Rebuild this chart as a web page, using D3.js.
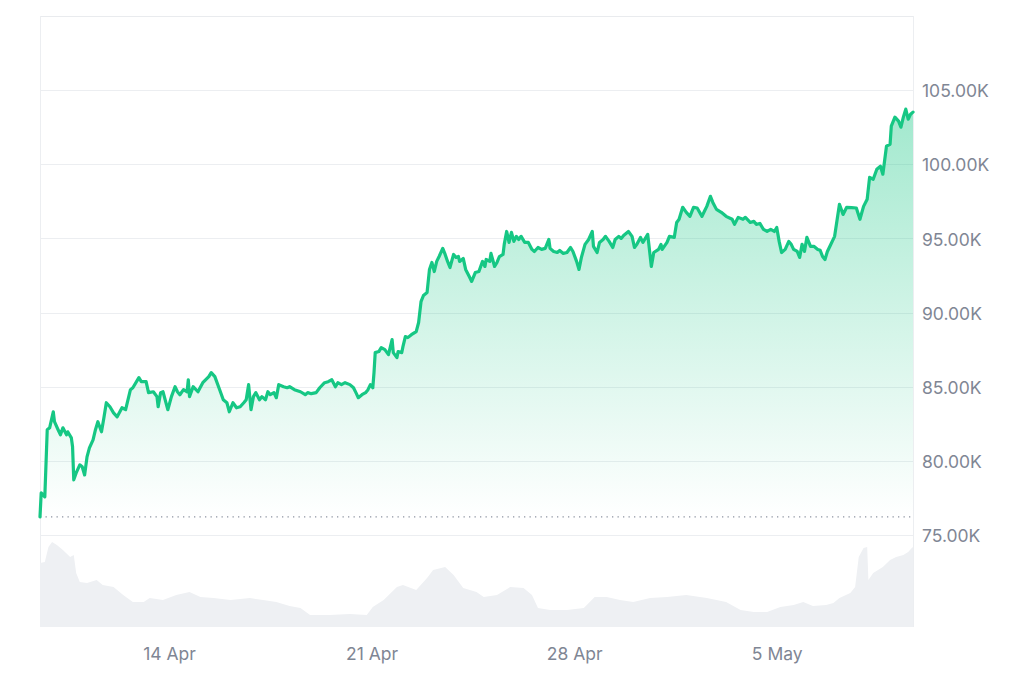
<!DOCTYPE html>
<html>
<head>
<meta charset="utf-8">
<script src="https://cdn.jsdelivr.net/npm/d3@7"></script>
<style>
  html, body { margin: 0; padding: 0; background: #ffffff; }
  svg { display: block; }
  text { font-family: Inter, "Noto Sans", sans-serif; }
</style>
</head>
<body>
<svg id="chart" width="1024" height="683"></svg>
<script>
// ---- data (hours after start time) ----
const startTime = "2025-04-09T13:00:00Z";
const endHour = 724;

const priceHours = [0,1,4,6,8,11,12,15,17,19,22,23,26,27,28,30,33,35,37,39,41,44,46,48,51,53,55,58,61,64,68,71,75,77,82,84,88,90,94,97,98,100,102,106,109,112,114,116,119,122,123,124,127,131,135,140,142,145,149,152,155,157,160,163,166,169,171,173,175,177,179,182,184,187,189,191,194,196,198,202,205,207,211,216,220,222,225,229,232,236,239,242,245,247,250,253,257,260,262,264,267,270,272,274,276,277,278,281,283,286,289,292,293,296,297,300,301,303,305,308,312,314,316,318,321,323,325,327,329,331,334,336,338,340,343,345,347,348,351,353,356,358,361,364,367,369,370,373,374,377,379,381,384,385,387,389,391,393,395,397,399,402,405,408,410,413,416,419,422,423,426,429,431,434,437,440,442,445,447,449,452,455,458,459,462,464,467,469,472,475,477,480,482,484,488,491,493,495,498,500,504,507,509,513,515,516,520,522,526,528,530,533,536,539,542,545,549,551,553,556,558,561,565,569,574,576,579,583,585,589,592,594,597,600,603,606,609,611,613,615,618,621,623,625,628,630,632,634,636,639,642,645,647,649,651,653,655,659,663,666,669,673,677,680,683,686,688,691,694,697,699,702,705,706,709,712,714,716,718,720,722,724];

const priceValues = [76220,77840,77570,82100,82230,83310,82640,82100,81760,82230,81760,81960,81550,80950,78720,79190,79730,79600,79050,80270,80880,81420,82100,82640,81960,82910,83920,83650,83240,82970,83580,83450,84800,84930,85610,85340,85340,84600,84660,84330,83650,84600,84660,83450,84330,85000,84660,84460,84800,84660,85470,84330,85000,84660,85270,85680,85950,85680,84800,84120,83920,83310,83920,83580,83650,83920,84120,85140,83450,84330,84600,84120,84330,84120,84660,84460,84600,84260,85140,85000,84930,85000,84800,84660,84460,84600,84530,84600,84930,85270,85340,85470,85000,85270,85140,85270,85140,84930,84600,84260,84460,84600,84800,85140,84930,85950,87300,87370,87640,87500,87160,88180,87300,86960,87370,87300,87700,88380,88310,88510,88720,89330,90740,91150,91350,92910,93380,92770,93450,93780,94330,93920,93450,93040,93920,93720,93780,93450,93650,92910,92430,92100,92700,92770,93450,93110,93580,93450,93990,93110,93380,93780,93920,94600,95470,94730,95410,94800,95140,94930,95140,94730,94730,94260,94120,94390,94260,94330,94930,94330,94120,94050,94190,93990,94050,94390,94120,93450,92910,93720,94600,94930,95470,94460,94050,94730,94930,95140,94800,94390,94930,95140,95000,95200,95470,95140,94390,94600,95070,94730,95270,93110,94050,94260,94600,94260,94730,95140,95070,96080,96290,97100,96760,96490,97100,97050,96490,96830,97160,97840,97430,96960,96760,96490,96290,95950,96420,96290,96420,96080,96150,95950,96010,95610,95470,95610,95470,95740,94800,94050,94260,94800,94600,94260,94120,93720,94600,94120,95070,94460,94460,94260,94200,93780,93580,94120,94460,95140,97300,96620,97100,97080,97050,96290,97160,97640,99120,98990,99660,99870,99330,101220,101350,102570,103180,102910,102500,103180,103720,103040,103380,103520];

const volumeHours = [0,4,7,10,14,19,25,28,30,33,39,47,52,61,69,77,86,91,102,113,124,133,144,158,174,185,196,207,216,224,240,257,271,276,285,296,301,312,321,326,336,343,351,362,368,379,390,401,408,413,423,437,451,460,470,481,492,506,520,536,553,569,581,592,603,614,625,633,641,652,658,663,672,676,679,683,686,687,691,699,705,710,716,720,723,724];
const volumeValues = [64,65,80,85,82,77,70,72,54,45,44,47,42,40,32,25,25,29,27,32,35,30,29,27,29,27,25,21,19,12,12,13,12,20,27,40,42,37,49,57,60,52,39,35,30,32,40,39,32,19,17,17,19,30,30,27,25,29,30,32,29,25,17,15,15,20,22,25,21,22,24,29,34,40,70,79,80,47,54,60,67,70,72,75,79,80];

const yTicks = [75000, 80000, 85000, 90000, 95000, 100000, 105000];
const xTickDates = ["2025-04-14", "2025-04-21", "2025-04-28", "2025-05-05"];
const xTickLabels = ["14 Apr", "21 Apr", "28 Apr", "5 May"];
const priceDomain = [75000, 110000];
const volumeDomain = [0, 90];

// ---- build ----
const t0 = new Date(startTime).getTime();
const toDate = h => new Date(t0 + h * 3600e3);
const n = Math.min(priceHours.length, priceValues.length);
const prices = d3.range(n).map(i => ({ t: toDate(priceHours[i]), v: priceValues[i] }));
const volumes = volumeHours.map((h, i) => ({ t: toDate(h), v: volumeValues[i] }));

const L = 40, R = 913, T = 16, priceBottom = 535, volBottom = 627, volTop = 537;

const x = d3.scaleUtc().domain([toDate(0), toDate(endHour)]).range([L, R]);
const y = d3.scaleLinear().domain(priceDomain).range([priceBottom, T]);
const yv = d3.scaleLinear().domain(volumeDomain).range([volBottom, volTop]);

const svg = d3.select("#chart");
const defs = svg.append("defs");
const maxV = d3.max(priceValues);
const grad = defs.append("linearGradient").attr("id", "fillGrad")
  .attr("gradientUnits", "userSpaceOnUse")
  .attr("x1", 0).attr("x2", 0)
  .attr("y1", y(maxV)).attr("y2", y(priceValues[0]));
grad.append("stop").attr("offset", 0).attr("stop-color", "#16c784").attr("stop-opacity", 0.4);
grad.append("stop").attr("offset", 1).attr("stop-color", "#16c784").attr("stop-opacity", 0.0);

// frame
svg.append("line").attr("x1", L).attr("x2", R).attr("y1", T + 0.5).attr("y2", T + 0.5)
  .attr("stroke", "#e9ebee").attr("stroke-width", 1);
svg.append("line").attr("x1", L + 0.5).attr("x2", L + 0.5).attr("y1", T).attr("y2", volBottom)
  .attr("stroke", "#eceef1").attr("stroke-width", 1);
svg.append("line").attr("x1", R + 0.5).attr("x2", R + 0.5).attr("y1", T).attr("y2", volBottom)
  .attr("stroke", "#eceef1").attr("stroke-width", 1);

// grid
const yAxis = d3.axisRight(y).tickValues(yTicks).tickSize(0).tickPadding(0)
  .tickFormat(d => (d / 1000).toFixed(2) + "K");
svg.append("g").selectAll("line").data(yTicks).join("line")
  .attr("x1", L).attr("x2", R)
  .attr("y1", d => Math.round(y(d)) + 0.5).attr("y2", d => Math.round(y(d)) + 0.5)
  .attr("stroke", "#eceef1").attr("stroke-width", 1);

// volume
svg.append("path").datum(volumes)
  .attr("d", d3.area().x(d => x(d.t)).y0(volBottom).y1(d => yv(d.v)))
  .attr("fill", "#eef0f3");

// price area
svg.append("path").datum(prices)
  .attr("d", d3.area().x(d => x(d.t)).y0(priceBottom).y1(d => y(d.v)))
  .attr("fill", "url(#fillGrad)");

// reference dotted line at opening price
svg.append("line").attr("x1", L).attr("x2", R)
  .attr("y1", y(priceValues[0])).attr("y2", y(priceValues[0]))
  .attr("stroke", "#8d94a1").attr("stroke-width", 1.3).attr("stroke-dasharray", "1.3,4.2");

// price line
svg.append("path").datum(prices)
  .attr("d", d3.line().x(d => x(d.t)).y(d => y(d.v)))
  .attr("fill", "none").attr("stroke", "#16c784").attr("stroke-width", 3.2)
  .attr("stroke-linejoin", "round").attr("stroke-linecap", "round");

// y axis labels
const gy = svg.append("g").attr("transform", `translate(${R + 9},1)`).call(yAxis);
gy.select(".domain").remove();
gy.selectAll("text").attr("fill", "#7f8694").attr("font-size", 17.5).attr("font-family", "Inter, sans-serif");

// x axis labels
const xTicks = xTickDates.map(s => new Date(s + "T00:00:00Z"));
const xAxis = d3.axisBottom(x).tickValues(xTicks).tickSize(0).tickPadding(0)
  .tickFormat((d, i) => xTickLabels[i]);
const gx = svg.append("g").attr("transform", `translate(0,648)`).call(xAxis);
gx.select(".domain").remove();
gx.selectAll("text").attr("fill", "#7f8694").attr("font-size", 17.5).attr("font-family", "Inter, sans-serif");
</script>
</body>
</html>
